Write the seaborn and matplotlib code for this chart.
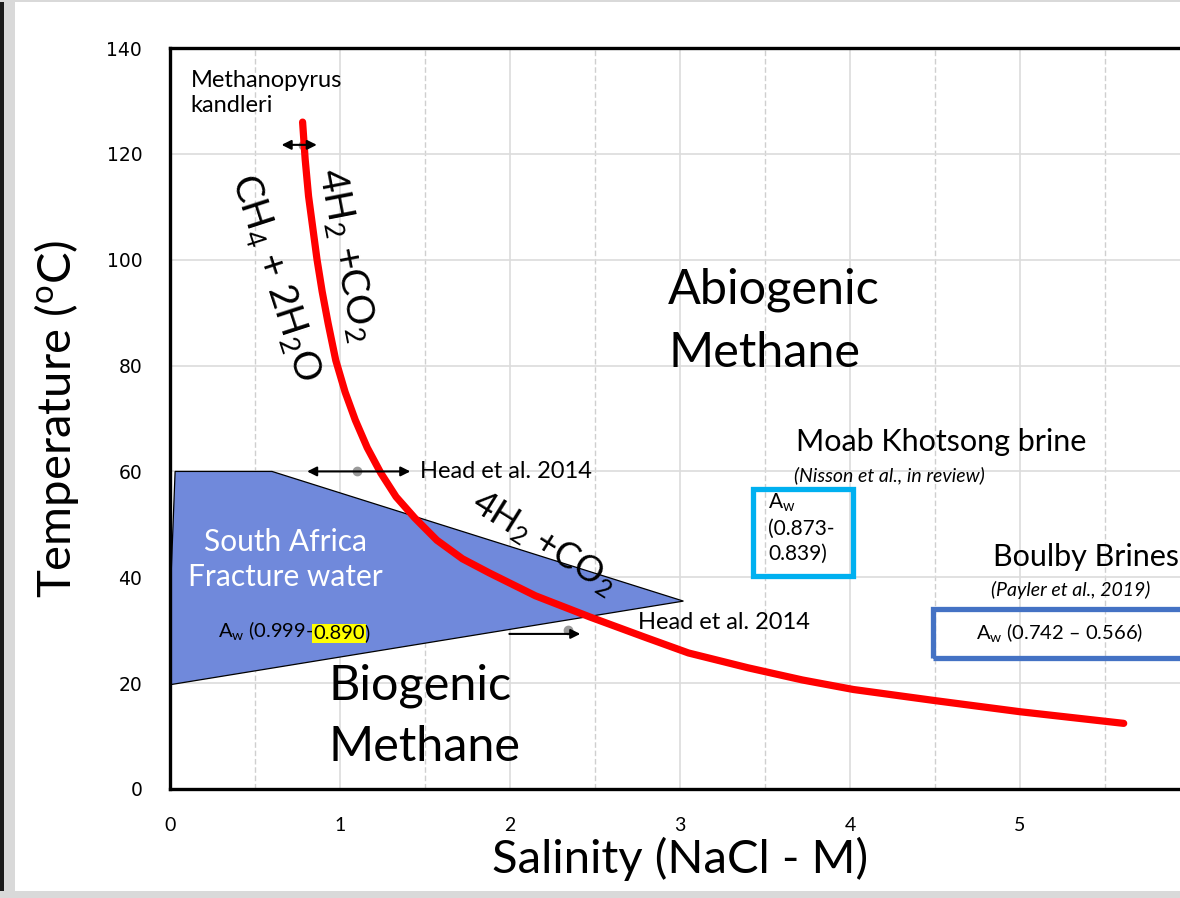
import pandas as pd
import seaborn as sns
import matplotlib.pyplot as plt
from matplotlib.patches import Polygon, Rectangle

# red boundary curve
curve_x = [0.78, 0.795, 0.815, 0.84, 0.865, 0.895, 0.93, 0.975, 1.03, 1.09, 1.16, 1.24, 1.33, 1.44, 1.57,
           1.72, 1.88, 2.15, 2.47, 2.80, 3.05, 3.40, 3.72, 4.02, 4.5, 5.0, 5.61]
curve_y = [126, 119, 112, 106, 100, 94, 88, 81, 75, 69.7, 64.5, 59.7, 55.2, 51.2, 47,
           43.5, 40.8, 36.5, 32.5, 28.6, 25.7, 22.9, 20.6, 18.8, 16.7, 14.6, 12.4]

# South Africa fracture water field
field_x = [0.0, 0.03, 0.6, 3.02, 0.0]
field_y = [35, 60, 60, 35.5, 19.7]

y_ticks = [0, 20, 40, 60, 80, 100, 120, 140]
x_ticks = [0, 1, 2, 3, 4, 5]

sns.set_theme(style="white")
plt.rcParams['font.family'] = ['Lato', 'DejaVu Sans']
plt.rcParams['mathtext.fontset'] = 'custom'
plt.rcParams['mathtext.rm'] = 'Lato'
plt.rcParams['mathtext.it'] = 'Lato:italic'
plt.rcParams['text.color'] = 'black'
plt.rcParams['axes.labelcolor'] = 'black'
plt.rcParams['xtick.color'] = 'black'
plt.rcParams['ytick.color'] = 'black'

fig = plt.figure(figsize=(11.8, 8.98), dpi=100)
ax = fig.add_axes([170 / 1180, 109 / 898, 1020 / 1180, 741 / 898])

df = pd.DataFrame({"salinity": curve_x, "temp": curve_y})

ax.add_patch(Polygon(list(zip(field_x, field_y)), closed=True, fc="#7089db",
                     ec="black", lw=0.9, zorder=2))
sns.lineplot(data=df, x="salinity", y="temp", sort=False, estimator=None,
             color="#ff0000", lw=5.2, ax=ax, zorder=4)
ax.lines[-1].set_solid_joinstyle("round")

ax.set_xlim(0, 6)
ax.set_ylim(0, 140)
ax.set_xticks(x_ticks)
ax.set_xticks([0.5, 1.5, 2.5, 3.5, 4.5, 5.5], minor=True)
ax.set_yticks(y_ticks)
ax.grid(True, which="major", color="#dcdcdc", lw=1.2, ls="-", zorder=0)
ax.grid(True, which="minor", axis="x", color="#cfcfcf", lw=1.0, ls=(0, (4, 2)), zorder=0)
ax.set_axisbelow(True)
ax.tick_params(which="both", length=0)
ax.tick_params(axis="y", labelsize=13.5, pad=20)
ax.tick_params(axis="x", labelsize=14, pad=20)
for lab in ax.get_yticklabels():
    lab.set_family("DejaVu Sans")
for sp in ax.spines.values():
    sp.set_color("black")
    sp.set_linewidth(2.4)

ax.set_xlabel("Salinity (NaCl - M)", fontsize=34, labelpad=2)
ax.set_ylabel("Temperature ($^{\\mathrm{o}}$C)", fontsize=34, labelpad=18)

# annotations
ax.text(0.12, 131.5, "Methanopyrus\nkandleri", fontsize=17, va="center", linespacing=1.25)
ax.annotate("", xy=(0.64, 121.7), xytext=(0.88, 121.7),
            arrowprops=dict(arrowstyle="<|-|>", color="black", lw=1.5, mutation_scale=14), zorder=5)
ax.plot([0.78], [121.7], "o", color="#9a9a9a", ms=6, zorder=3)

ax.annotate("", xy=(0.79, 60), xytext=(1.43, 60),
            arrowprops=dict(arrowstyle="<|-|>", color="black", lw=1.5, mutation_scale=14), zorder=5)
ax.plot([1.10], [60], "o", color="#9a9a9a", ms=6, zorder=3)
ax.text(1.47, 60, "Head et al. 2014", fontsize=17, va="center")

ax.annotate("", xy=(2.43, 29.3), xytext=(1.98, 29.3),
            arrowprops=dict(arrowstyle="-|>", color="black", lw=1.5, mutation_scale=14), zorder=5)
ax.plot([2.34], [30], "o", color="#9a9a9a", ms=6, zorder=3)
ax.text(2.75, 31.5, "Head et al. 2014", fontsize=17, va="center")

ax.text(1.04, 101, "4H$_2$ +CO$_2$", fontsize=28, rotation=-79, ha="center", va="center",
        rotation_mode="anchor")
ax.text(0.62, 96.5, "CH$_4$ + 2H$_2$O", fontsize=28, rotation=-72, ha="center", va="center",
        rotation_mode="anchor")
ax.text(2.2, 46.5, "4H$_2$ +CO$_2$", fontsize=26, rotation=-32, ha="center", va="center",
        rotation_mode="anchor", zorder=5)

ax.text(2.93, 94.3, "Abiogenic", fontsize=35, va="center")
ax.text(2.93, 82.4, "Methane", fontsize=35, va="center")
ax.text(0.93, 19.5, "Biogenic", fontsize=35, va="center")
ax.text(0.93, 8.0, "Methane", fontsize=35, va="center")

ax.text(0.68, 43.3, "South Africa\nFracture water", fontsize=21.5, color="white",
        ha="center", va="center", linespacing=1.3, zorder=5)
t1 = ax.text(0.28, 30, "A$_\\mathrm{w}$ (0.999-", fontsize=14.5, va="center", zorder=5)
t2 = ax.annotate("0.890", xy=(1, 0), xycoords=t1, va="bottom", fontsize=14.5, zorder=5,
                 bbox=dict(boxstyle="square,pad=0.05", fc="#ffff00", ec="none"))
ax.annotate(")", xy=(1, 0), xycoords=t2, va="bottom", fontsize=14.5, zorder=5)

ax.text(3.68, 65.5, "Moab Khotsong brine", fontsize=22, va="center")
ax.text(3.67, 59.2, "(Nisson et al., in review)", fontsize=14, style="italic", va="center")
ax.add_patch(Rectangle((3.43, 40.3), 0.59, 16.4, fill=False, ec="#00b0f0", lw=3.8, zorder=5))
ax.text(3.52, 56.2, "A$_\\mathrm{w}$\n(0.873-\n0.839)", fontsize=15, va="top", linespacing=1.32)

ax.text(4.84, 43.8, "Boulby Brines", fontsize=22, va="center")
ax.text(4.83, 37.6, "(Payler et al., 2019)", fontsize=14, style="italic", va="center")
ax.add_patch(Rectangle((4.49, 24.8), 1.6, 9.3, fill=False, ec="#4472c4", lw=3.8,
                       zorder=5, clip_on=False))
ax.text(4.74, 29.5, "A$_\\mathrm{w}$ (0.742 \u2013 0.566)", fontsize=14.5, va="center")

# screenshot frame
fig.add_artist(Rectangle((0, 0), 15 / 1180, 1, transform=fig.transFigure, fc="#d9d9d9", ec="none"))
fig.add_artist(Rectangle((0, 0), 4 / 1180, 1, transform=fig.transFigure, fc="#1a1a1a", ec="none"))
fig.add_artist(Rectangle((0, 1 - 2 / 898), 1, 2 / 898, transform=fig.transFigure, fc="#d9d9d9", ec="none"))
fig.add_artist(Rectangle((0, 0), 1, 7 / 898, transform=fig.transFigure, fc="#d9d9d9", ec="none"))

fig.savefig("out.png", dpi=100)
